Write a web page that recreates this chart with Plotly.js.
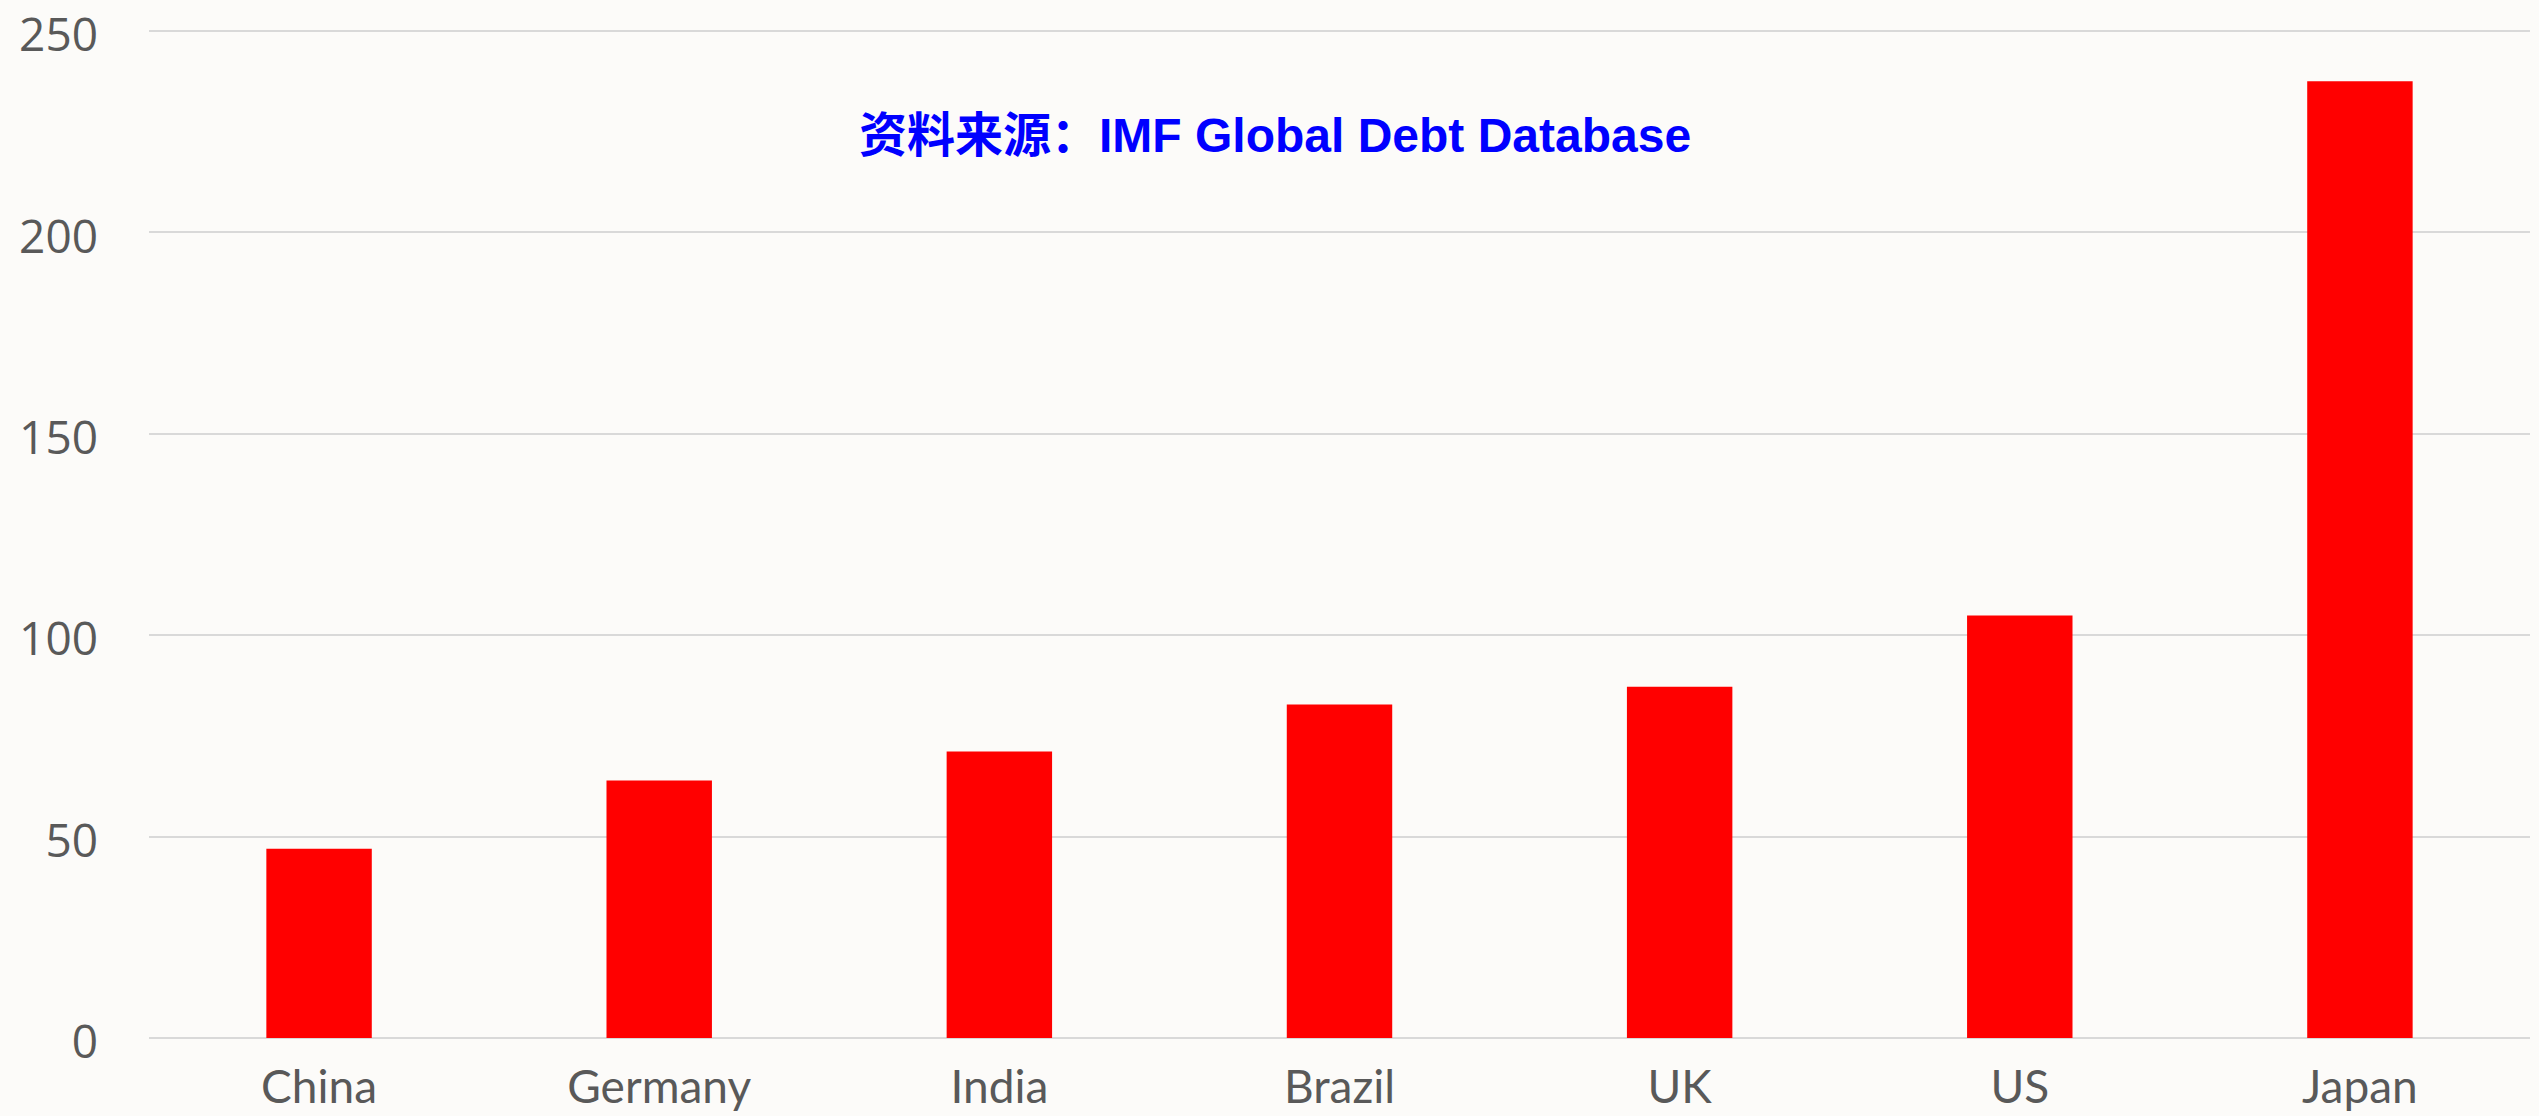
<!DOCTYPE html>
<html>
<head>
<meta charset="utf-8">
<script src="https://cdn.plot.ly/plotly-3.0.1.min.js"></script>
<style>html,body{margin:0;padding:0;background:#fcfbf9;}#chart{width:2539px;height:1116px;}</style>
</head>
<body>
<div id="chart"></div>
<script>
const countries = ["China", "Germany", "India", "Brazil", "UK", "US", "Japan"];
const debtValues = [47.0, 63.9, 71.1, 82.8, 87.2, 104.9, 237.5];
const yTickValues = [0, 50, 100, 150, 200, 250];
const sourceText = "资料来源：IMF Global Debt Database";

const trace = {
  type: "bar",
  x: countries,
  y: debtValues,
  marker: {color: "#ff0000", line: {width: 0}},
  hoverinfo: "x+y"
};

const layout = {
  width: 2539,
  height: 1116,
  paper_bgcolor: "#fcfbf9",
  plot_bgcolor: "#fcfbf9",
  margin: {l: 149, r: 9, t: 29, b: 78, pad: 0},
  bargap: 0.69,
  showlegend: false,
  xaxis: {
    type: "category",
    showgrid: false,
    showline: false,
    zeroline: false,
    ticks: "",
    ticklabelstandoff: 18,
    tickfont: {family: "Lato, 'Open Sans', sans-serif", size: 46, color: "#595959"},
    automargin: false
  },
  yaxis: {
    range: [0, 250.5],
    tickvals: yTickValues,
    ticktext: yTickValues.map(String),
    showgrid: true,
    gridcolor: "#d9d9d9",
    gridwidth: 2,
    zeroline: true,
    zerolinecolor: "#d9d9d9",
    zerolinewidth: 2,
    showline: false,
    ticks: "",
    ticklabelstandoff: 50,
    ticklabelshift: 4,
    ticklabeloverflow: "allow",
    tickfont: {family: "'Open Sans', 'Noto Sans', sans-serif", size: 46, color: "#595959"},
    automargin: false,
    fixedrange: true
  },
  annotations: [{
    text: "<b>" + sourceText + "</b>",
    xref: "paper", yref: "paper",
    x: 0.473, y: 0.894,
    xanchor: "center", yanchor: "middle",
    showarrow: false,
    font: {family: "'Liberation Sans', Arial, 'Noto Sans CJK SC', sans-serif", size: 48, color: "#0000ff"}
  }]
};

Plotly.newPlot("chart", [trace], layout, {displayModeBar: false, staticPlot: true});
</script>
</body>
</html>
